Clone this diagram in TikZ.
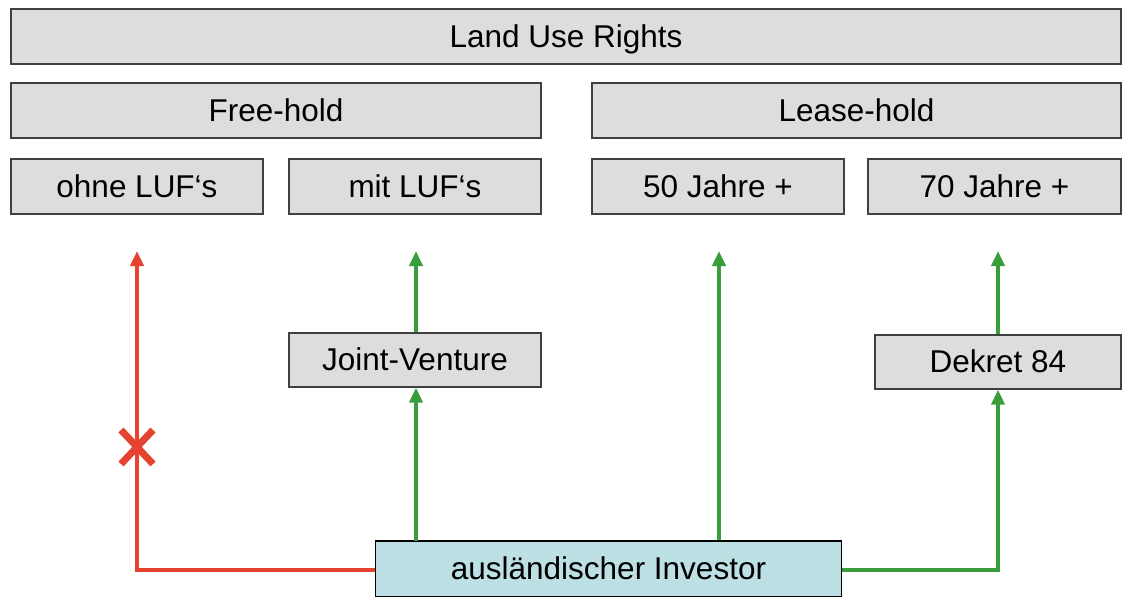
\documentclass[tikz,border=0pt]{standalone}
\usepackage{fontspec}
\setmainfont{Liberation Sans}
\usetikzlibrary{arrows.meta,calc}
\definecolor{boxgray}{HTML}{DDDDDD}
\definecolor{boxline}{HTML}{404040}
\definecolor{invfill}{HTML}{BCE0E4}
\definecolor{myred}{HTML}{E5432F}
\definecolor{mygreen}{HTML}{3A9D3C}
\tikzset{
  box/.style={draw=boxline, line width=1.2pt, fill=boxgray, rectangle, inner sep=0pt, minimum height=55pt, text height=25pt, text depth=4pt, font=\fontsize{31.5}{34}\selectfont},
  invbox/.style={box, fill=invfill, draw=black},
  conn/.style={line width=4pt, -{Triangle[length=15pt,width=13pt]}},
}
\begin{document}
\begin{tikzpicture}[x=1pt,y=-1pt]
\useasboundingbox (0,0) rectangle (1122,597);
\node[box, minimum width=1110pt] (lur) at (566,36.5) {Land Use Rights};
\node[box, minimum width=530pt] (free) at (276,110.5) {Free-hold};
\node[box, minimum width=529pt] (lease) at (856.5,110.5) {Lease-hold};
\node[box, minimum width=252pt] (ohne) at (137,186.5) {ohne LUF‘s};
\node[box, minimum width=252pt] (mit) at (415,186.5) {mit LUF‘s};
\node[box, minimum width=252pt] (j50) at (718,186.5) {50 Jahre +};
\node[box, minimum width=253pt] (j70) at (994.5,186.5) {70 Jahre +};
\node[box, minimum width=252pt, minimum height=54pt] (jv) at (415,360) {Joint-Venture};
\node[box, minimum width=246pt, minimum height=54pt] (dek) at (998,362) {Dekret 84};
\node[invbox, minimum width=466pt, minimum height=56pt] (inv) at (608.5,569) {ausländischer Investor};

\coordinate (t1) at (137,251);
\coordinate (t2) at (416,251);
\coordinate (t3) at (719,251);
\coordinate (t4) at (998,251);
\coordinate (x) at (137,447);

% red path
\draw[myred, conn] (inv.west |- 0,570) -| (t1);
\draw[myred, line width=7pt] ($(x)+(-16,-17)$) -- ($(x)+(16,17)$);
\draw[myred, line width=7pt] ($(x)+(-16,17)$) -- ($(x)+(16,-17)$);

% green paths
\draw[mygreen, conn] (416,541) coordinate (s1) -- (jv.south -| s1);
\draw[mygreen, conn] (jv.north -| t2) -- (t2);
\draw[mygreen, conn] (inv.north -| t3) -- (t3);
\draw[mygreen, conn] (inv.east |- 0,570) -| (dek.south -| t4);
\draw[mygreen, conn] (dek.north -| t4) -- (t4);
\end{tikzpicture}
\end{document}
